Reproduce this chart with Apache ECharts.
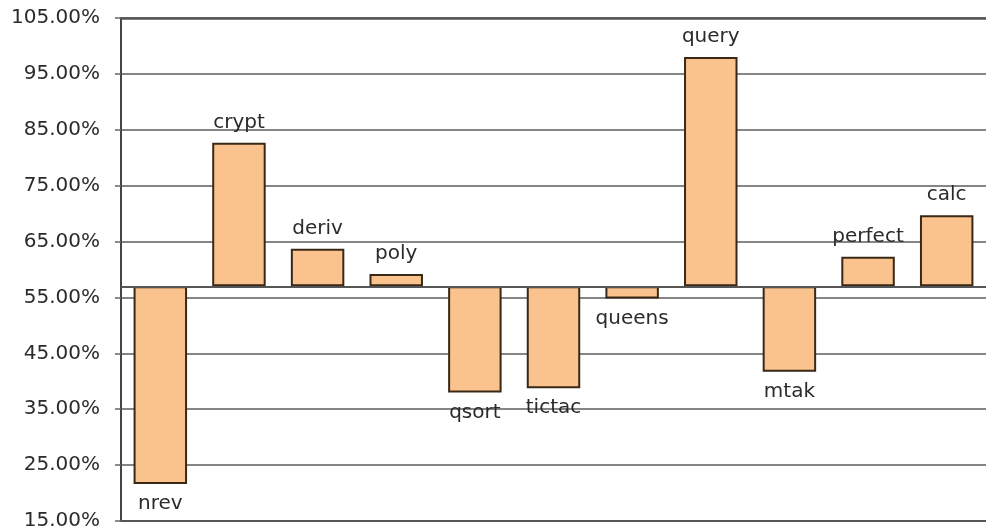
<!DOCTYPE html>
<html>
<head>
<meta charset="utf-8">
<script src="https://cdn.jsdelivr.net/npm/echarts@6/dist/echarts.min.js"></script>
<style>
  html, body { margin: 0; padding: 0; background: #fff; }
  #chart { width: 986px; height: 531px; }
</style>
</head>
<body>
<div id="chart"></div>
<script>
// Benchmark results, relative to a common reference level
const categories = ['nrev', 'crypt', 'deriv', 'poly', 'qsort', 'tictac', 'queens', 'query', 'mtak', 'perfect', 'calc'];
const values = [21.6, 82.7, 63.7, 59.2, 38.0, 38.75, 54.8, 98.0, 41.7, 62.3, 69.7];
const baseline = 57;
const yMin = 15, yMax = 105, yStep = 10;

// Bars hang from the baseline: an invisible stack segment lifts each bar to its lower edge
const lower = values.map(v => Math.min(v, baseline));
const span = values.map((v, i) => ({
  value: Math.abs(v - baseline),
  label: { position: v >= baseline ? 'top' : 'bottom' }
}));

const font = 'DejaVu Sans';
const chart = echarts.init(document.getElementById('chart'), null, { renderer: 'canvas' });
chart.setOption({
  animation: false,
  backgroundColor: '#fff',
  grid: { left: 121, top: 18, width: 876, bottom: 9, containLabel: false },
  xAxis: {
    type: 'category',
    data: categories,
    axisLine: { show: true, lineStyle: { color: '#555', width: 2 } },
    axisTick: { show: false },
    axisLabel: { show: false }
  },
  yAxis: {
    type: 'value',
    min: yMin,
    max: yMax,
    interval: yStep,
    axisLine: { show: true, lineStyle: { color: '#444', width: 2 } },
    axisTick: { show: true, length: 6, lineStyle: { color: '#666', width: 1.5 } },
    axisLabel: {
      margin: 21,
      color: '#2b2b2b',
      fontFamily: font,
      fontSize: 20,
      formatter: v => v.toFixed(2) + '%'
    },
    splitLine: { show: true, lineStyle: { color: '#858585', width: 2 } }
  },
  series: [
    {
      type: 'bar',
      stack: 'bars',
      data: lower,
      silent: true,
      barCategoryGap: '32%',
      itemStyle: { color: 'transparent', borderWidth: 0 }
    },
    {
      type: 'bar',
      stack: 'bars',
      data: span,
      barCategoryGap: '32%',
      itemStyle: { color: '#FAC38E', borderColor: '#3a2816', borderWidth: 2 },
      label: {
        show: true,
        formatter: '{b}',
        distance: 10,
        color: '#2b2b2b',
        fontFamily: font,
        fontSize: 20
      },
      markLine: {
        silent: true,
        symbol: 'none',
        label: { show: false },
        lineStyle: { type: 'solid' },
        data: [
          { yAxis: baseline, lineStyle: { color: '#555', width: 2 } },
          { yAxis: yMax, lineStyle: { color: '#555', width: 2.5 } }
        ]
      }
    }
  ]
});
</script>
</body>
</html>
